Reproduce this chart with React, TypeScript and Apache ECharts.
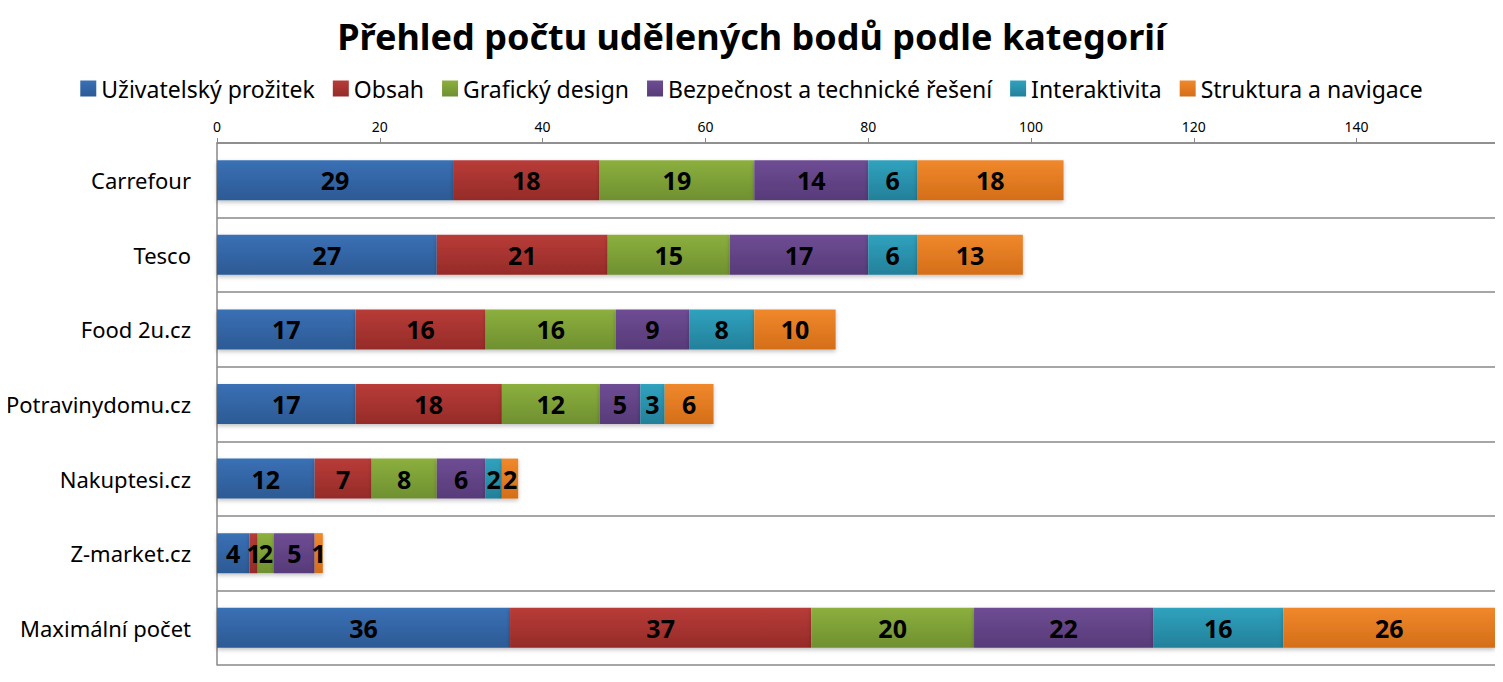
import React, { useEffect, useRef } from "react";
import * as echarts from "echarts";

const categories = ["Carrefour", "Tesco", "Food 2u.cz", "Potravinydomu.cz", "Nakuptesi.cz", "Z-market.cz", "Maximální počet"];
const seriesNames = ["Uživatelský prožitek", "Obsah", "Grafický design", "Bezpečnost a technické řešení", "Interaktivita", "Struktura a navigace"];
const uzivatelsky = [29, 27, 17, 17, 12, 4, 36];
const obsah = [18, 21, 16, 18, 7, 1, 37];
const graficky = [19, 15, 16, 12, 8, 2, 20];
const bezpecnost = [14, 17, 9, 5, 6, 5, 22];
const interaktivita = [6, 6, 8, 3, 2, 0, 16];
const struktura = [18, 13, 10, 6, 2, 1, 26];
const seriesValues = [uzivatelsky, obsah, graficky, bezpecnost, interaktivita, struktura];
const axisTicks = [0, 20, 40, 60, 80, 100, 120, 140];

const colors: [string, string][] = [
  ["#3A70B5", "#2C5A94"],
  ["#B83C38", "#952B28"],
  ["#8CAF3E", "#6F9030"],
  ["#6E4D94", "#573A78"],
  ["#30A2BE", "#23809A"],
  ["#F0882C", "#D46E18"],
];

export default function App() {
  const ref = useRef<HTMLDivElement>(null);
  useEffect(() => {
    if (!ref.current) return;
    const chart = echarts.init(ref.current, null, { renderer: "svg" });
    const font = "Noto Sans";
    chart.setOption({
      animation: false,
      title: {
        text: "Přehled počtu udělených bodů podle kategorií",
        left: "center",
        top: 5,
        textStyle: { fontFamily: font, fontSize: 36, fontWeight: "bold", color: "#000" },
      },
      legend: {
        top: 64,
        left: "center",
        itemWidth: 16,
        itemHeight: 16,
        itemGap: 18,
        icon: "rect",
        textStyle: { fontFamily: font, fontSize: 23, color: "#000" },
        data: seriesNames,
      },
      grid: { left: 217, right: 8, top: 135, bottom: 9, containLabel: false, outerBoundsMode: "none" },
      xAxis: {
        type: "value",
        position: "top",
        min: 0,
        max: 157,
        interval: 20,
        axisLine: { show: true, lineStyle: { color: "#888", width: 1.5 } },
        axisTick: { show: true, length: 5, lineStyle: { color: "#888" }, customValues: axisTicks },
        axisLabel: {
          fontFamily: font,
          fontSize: 14,
          color: "#000",
          margin: 10,
          customValues: axisTicks,
        },
        splitLine: { show: false },
      },
      yAxis: {
        type: "category",
        inverse: true,
        data: categories,
        axisLine: { show: true, lineStyle: { color: "#888", width: 1.5 } },
        axisTick: { show: false },
        axisLabel: { fontFamily: font, fontSize: 22, color: "#000", margin: 26 },
        splitLine: { show: true, lineStyle: { color: "#888", width: 1.5 } },
      },
      series: seriesValues.map((vals, i) => ({
        name: seriesNames[i],
        type: "bar",
        stack: "total",
        barWidth: 40,
        data: vals,
        itemStyle: {
          color: new echarts.graphic.LinearGradient(0, 0, 0, 1, [
            { offset: 0, color: colors[i][0] },
            { offset: 1, color: colors[i][1] },
          ]),
          shadowColor: "rgba(0,0,0,0.25)",
          shadowBlur: 4,
          shadowOffsetY: 2,
        },
        label: {
          show: true,
          position: "inside",
          fontFamily: font,
          fontSize: 25,
          fontWeight: "bold",
          color: "#000",
          formatter: (p: any) => (p.value === 0 ? "" : String(p.value)),
        },
      })),
    });
    return () => chart.dispose();
  }, []);
  return <div ref={ref} style={{ width: 1503, height: 666, marginLeft: -8 }} />;
}
